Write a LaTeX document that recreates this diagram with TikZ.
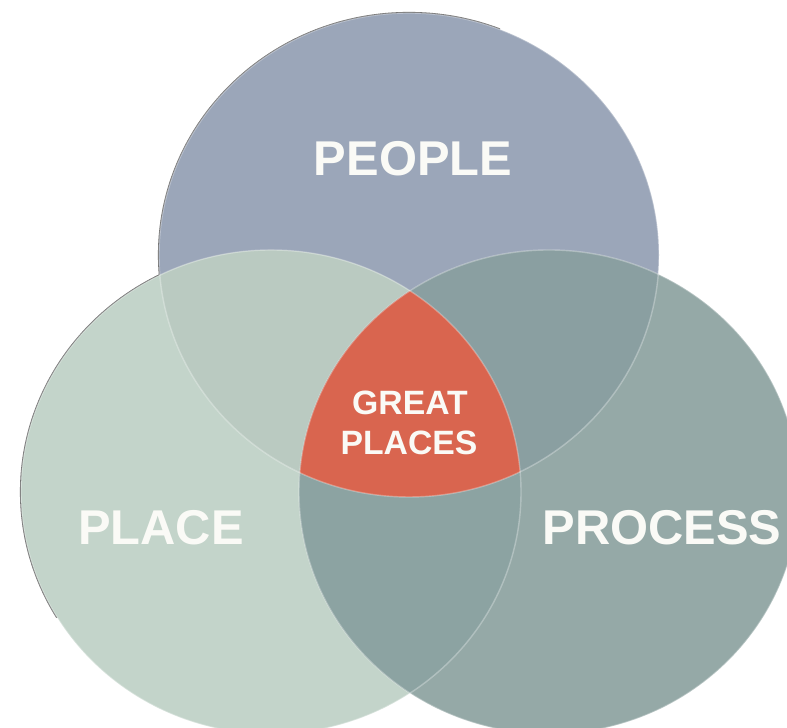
\documentclass[tikz,border=0pt]{standalone}
\usepackage{fontspec}
\setmainfont{Liberation Sans}
\usepackage{tikz}

\definecolor{peoplecol}{HTML}{9BA6B9}
\definecolor{placecol}{HTML}{C3D4CA}
\definecolor{processcol}{HTML}{95A9A7}
\definecolor{peopleplacecol}{HTML}{BACAC1}
\definecolor{peopleprocesscol}{HTML}{8A9FA1}
\definecolor{placeprocesscol}{HTML}{8CA3A2}
\definecolor{greatcol}{HTML}{D9654F}
\definecolor{labelcol}{HTML}{FAFAF6}

\newcommand\peoplepath{(top) ellipse [x radius=250, y radius=242]}
\newcommand\placepath{(lft) ellipse [x radius=250, y radius=242]}
\newcommand\processpath{(rgt) ellipse [x radius=250, y radius=242]}

\tikzset{
  rim/.style={draw=black!60, line width=0.6pt},
  seam/.style={draw=white, opacity=0.3, line width=0.4pt},
  biglabel/.style={text=labelcol, inner sep=0pt, font=\fontsize{13.9}{16}\selectfont\bfseries},
  smalllabel/.style={text=labelcol, inner sep=0pt, font=\fontsize{9.6}{11}\selectfont\bfseries}
}

\begin{document}
\begin{tikzpicture}[x=0.1mm, y=0.1mm]
    \clip (0, 0) rectangle (787, 728);
    \coordinate (top) at (409, 473);
    \coordinate (lft) at (271, 236);
    \coordinate (rgt) at (549, 236);

    \begin{scope}
        \clip (0, 110) rectangle (500, 728);
        \draw[rim] \peoplepath;
        \draw[rim] \placepath;
    \end{scope}

    \fill[peoplecol] \peoplepath;
    \fill[placecol] \placepath;
    \fill[processcol] \processpath;

    \begin{scope}
        \clip \placepath;
        \fill[peopleplacecol] \peoplepath;
    \end{scope}
    \begin{scope}
        \clip \processpath;
        \fill[peopleprocesscol] \peoplepath;
    \end{scope}
    \begin{scope}
        \clip \placepath;
        \fill[placeprocesscol] \processpath;
        \clip \processpath;
        \fill[greatcol] \peoplepath;
    \end{scope}

    \draw[seam] \peoplepath;
    \draw[seam] \placepath;
    \draw[seam] \processpath;

    \node[biglabel] (people) at (413, 569) {PEOPLE};
    \node[biglabel] (place) at (161, 200) {PLACE};
    \node[biglabel] (process) at (662, 200) {PROCESS};
    \node[smalllabel] (great) at (410, 325) {GREAT};
    \node[smalllabel] (places) at (409, 285) {PLACES};
\end{tikzpicture}
\end{document}
